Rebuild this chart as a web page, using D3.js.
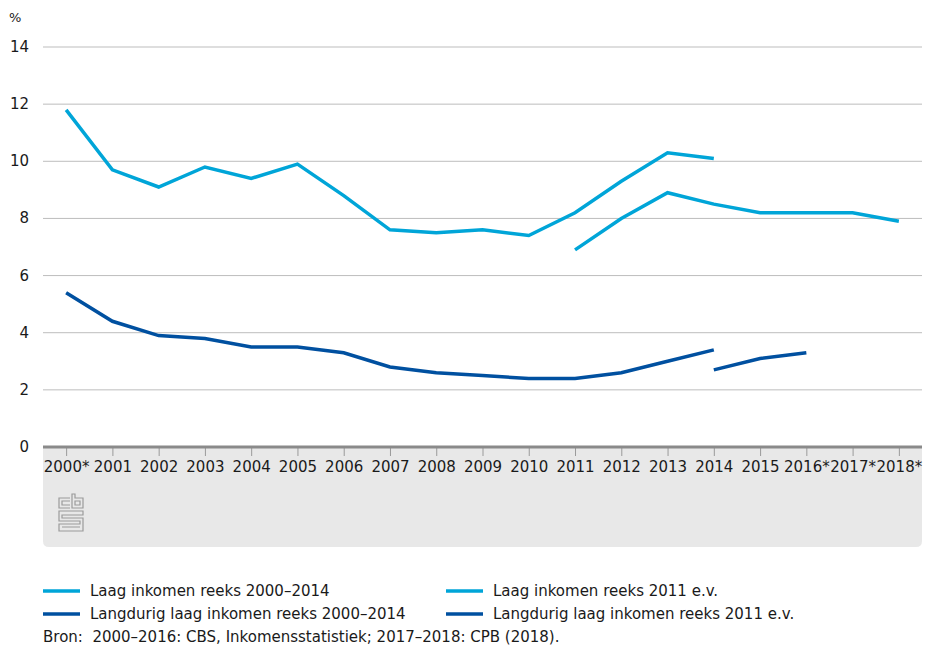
<!DOCTYPE html>
<html>
<head>
<meta charset="utf-8">
<script src="https://cdn.jsdelivr.net/npm/d3@7"></script>
<style>
  body { margin: 0; background: #fff; }
  svg text { font-family: "DejaVu Sans", sans-serif; fill: #1a1a1a; }
</style>
</head>
<body>
<svg id="chart" width="930" height="649"></svg>
<script>
//data
const years = ['2000*','2001','2002','2003','2004','2005','2006','2007','2008','2009',
  '2010','2011','2012','2013','2014','2015','2016*','2017*','2018*'];
const yTicks = [0, 2, 4, 6, 8, 10, 12, 14];

const laagOud = [11.8, 9.7, 9.1, 9.8, 9.4, 9.9, 8.8, 7.6, 7.5, 7.6, 7.4, 8.2, 9.3, 10.3, 10.1,
  null, null, null, null];
const laagNieuw = [null, null, null, null, null, null, null, null, null, null, null,
  6.9, 8.0, 8.9, 8.5, 8.2, 8.2, 8.2, 7.9];
const langOud = [5.4, 4.4, 3.9, 3.8, 3.5, 3.5, 3.3, 2.8, 2.6, 2.5, 2.4, 2.4, 2.6, 3.0, 3.4,
  null, null, null, null];
const langNieuw = [null, null, null, null, null, null, null, null, null, null, null,
  null, null, null, 2.7, 3.1, 3.3, null, null];

const seriesNames = ['Laag inkomen reeks 2000\u20132014', 'Laag inkomen reeks 2011 e.v.',
  'Langdurig laag inkomen reeks 2000\u20132014', 'Langdurig laag inkomen reeks 2011 e.v.'];

const lightBlue = '#00a5d8';
const darkBlue = '#0050a0';

const series = [
  {name: seriesNames[0], values: laagOud, color: lightBlue},
  {name: seriesNames[1], values: laagNieuw, color: lightBlue},
  {name: seriesNames[2], values: langOud, color: darkBlue},
  {name: seriesNames[3], values: langNieuw, color: darkBlue}
];

//layout
const plotLeft = 43, plotRight = 922, plotTop = 47, plotBottom = 447;

const svg = d3.select('#chart');

const xScale = d3.scalePoint()
  .domain(years)
  .range([plotLeft, plotRight])
  .padding(0.5);

const yScale = d3.scaleLinear()
  .domain([0, 14])
  .range([plotBottom, plotTop]);

//grey box under the axis
const boxBottom = 547, r = 6;
svg.append('path')
  .attr('d', `M${plotLeft},${plotBottom} H${plotRight} V${boxBottom - r} Q${plotRight},${boxBottom} ${plotRight - r},${boxBottom}
    H${plotLeft + r} Q${plotLeft},${boxBottom} ${plotLeft},${boxBottom - r} Z`)
  .attr('fill', '#e8e8e8');

//gridlines
svg.append('g')
  .selectAll('line')
  .data(yTicks.filter(d => d > 0))
  .enter()
  .append('line')
    .attr('x1', plotLeft)
    .attr('x2', plotRight)
    .attr('y1', d => yScale(d))
    .attr('y2', d => yScale(d))
    .attr('stroke', '#bdbdbd')
    .attr('stroke-width', 1);

//y labels
svg.append('g')
  .selectAll('text')
  .data(yTicks)
  .enter()
  .append('text')
    .attr('x', 29)
    .attr('y', d => yScale(d))
    .attr('text-anchor', 'end')
    .attr('dominant-baseline', 'central')
    .style('font-size', '15px')
    .text(d => d);

svg.append('text')
  .attr('x', 9)
  .attr('y', 22)
  .style('font-size', '13px')
  .text('%');

//x axis
const xAxis = d3.axisBottom(xScale).tickSize(9).tickPadding(5);
const gx = svg.append('g')
  .attr('transform', `translate(0, ${plotBottom})`)
  .call(xAxis);
gx.select('.domain').remove();
gx.selectAll('.tick line').attr('stroke', '#9a9a9a');
gx.selectAll('.tick text')
  .style('font-size', '15px')
  .style('font-family', '"DejaVu Sans", sans-serif')
  .attr('fill', '#1a1a1a');

svg.append('line')
  .attr('x1', plotLeft)
  .attr('x2', plotRight)
  .attr('y1', plotBottom)
  .attr('y2', plotBottom)
  .attr('stroke', '#8a8a8a')
  .attr('stroke-width', 3);

//lines
const line = d3.line()
  .defined(d => d.v != null)
  .x(d => xScale(d.year))
  .y(d => yScale(d.v));

svg.append('g')
  .selectAll('path')
  .data(series)
  .enter()
  .append('path')
    .attr('d', s => line(s.values.map((v, i) => ({year: years[i], v: v}))))
    .attr('fill', 'none')
    .attr('stroke', s => s.color)
    .attr('stroke-width', 3.5);

//cbs logo
const logo = svg.append('g')
  .attr('transform', 'translate(58, 494)')
  .attr('fill', 'none')
  .attr('stroke', '#9a9a9a')
  .attr('stroke-width', 1.2);
logo.append('path').attr('d', 'M12,4 H1 V14 H12 M12,7 H4 V11 H12');
logo.append('path').attr('d', 'M14,0 V14 H25 V4 H17 V0 Z M17,7 H22 V11 H17 Z');
logo.append('path').attr('d', 'M25,17 H1 V27 H22 V30 H1 V37 H25 V24 H4 V21 H25 Z M4,33 H22');

//legend
const legend = svg.append('g')
  .selectAll('g')
  .data(series)
  .enter()
  .append('g')
    .attr('transform', (d, i) => `translate(${i % 2 === 0 ? 43 : 446}, ${i < 2 ? 591 : 614})`);
legend.append('line')
  .attr('x1', 0)
  .attr('x2', 37)
  .attr('stroke', d => d.color)
  .attr('stroke-width', 3.5);
legend.append('text')
  .attr('x', 47)
  .attr('dominant-baseline', 'central')
  .style('font-size', '15px')
  .text(d => d.name);

svg.append('text')
  .attr('x', 43)
  .attr('y', 637)
  .attr('dominant-baseline', 'central')
  .style('font-size', '15px')
  .style('white-space', 'pre')
  .text('Bron:  2000\u20132016: CBS, Inkomensstatistiek; 2017\u20132018: CPB (2018).');
</script>
</body>
</html>
